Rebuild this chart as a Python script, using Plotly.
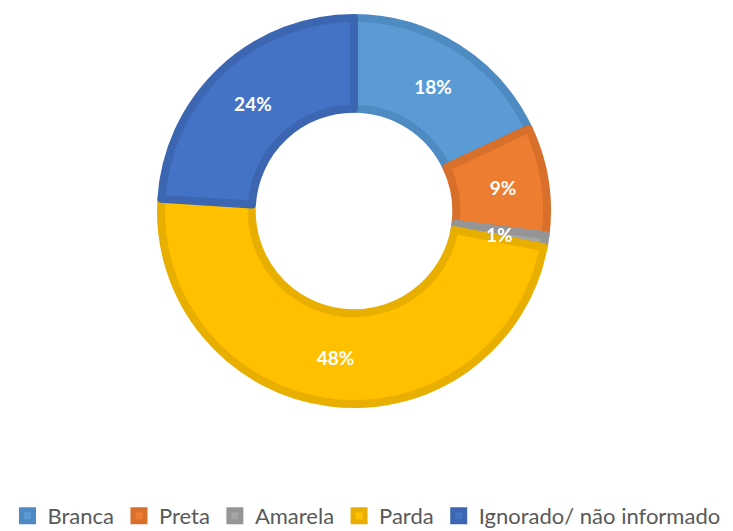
import math
import plotly.graph_objects as go

categories = ["Branca", "Preta", "Amarela", "Parda", "Ignorado/ não informado"]
values = [18, 9, 1, 48, 24]
fill_colors = ["#5B9BD5", "#ED7D31", "#A5A5A5", "#FFC000", "#4472C4"]
border_colors = ["#4E8BC2", "#D86F2A", "#959595", "#E8AE00", "#3D66B2"]

W, H = 733, 531
dom_x = [161 / W, 547 / W]
dom_y = [127 / H, 513 / H]
hole = 0.53

# slices too thin for inside text get an annotation at mid-ring
small = [v / sum(values) < 0.03 for v in values]
textpos = ["none" if s else "inside" for s in small]

fig = go.Figure(go.Pie(
    labels=categories,
    values=values,
    sort=False,
    direction="clockwise",
    rotation=0,
    hole=hole,
    marker=dict(colors=fill_colors, line=dict(color=border_colors, width=8)),
    texttemplate="%{percent:.0%}",
    textposition=textpos,
    insidetextorientation="horizontal",
    textfont=dict(family="Lato", size=19, color="white", weight="bold"),
    domain=dict(x=dom_x, y=dom_y),
))

# annotation for small slice, placed at mid-ring of its angular centre
cx = (dom_x[0] + dom_x[1]) / 2 * W
cy = (dom_y[0] + dom_y[1]) / 2 * H
R = min((dom_x[1] - dom_x[0]) * W, (dom_y[1] - dom_y[0]) * H) / 2
rmid = (R + R * hole) / 2
total = sum(values)
cum = 0
for v, s in zip(values, small):
    if s:
        theta = 2 * math.pi * (cum + v / 2) / total
        px = cx + rmid * math.sin(theta)
        py = cy + rmid * math.cos(theta)
        fig.add_annotation(
            x=px / W, y=py / H, xref="paper", yref="paper",
            xanchor="center", yanchor="middle",
            text=f"{round(100 * v / total)}%", showarrow=False,
            font=dict(family="Lato", size=19, color="white", weight="bold"),
        )
    cum += v

fig.update_layout(
    width=W, height=H,
    margin=dict(l=0, r=0, t=0, b=0, autoexpand=False),
    paper_bgcolor="white",
    plot_bgcolor="white",
    showlegend=True,
    legend=dict(
        orientation="h", x=0.5, xanchor="center", y=-0.011, yanchor="bottom",
        font=dict(family="Lato", size=22, color="#595959"),
        itemwidth=30, traceorder="normal",
    ),
)

fig.write_html("out.html", config={"displayModeBar": False},
               post_script="document.body.style.margin='0';")
